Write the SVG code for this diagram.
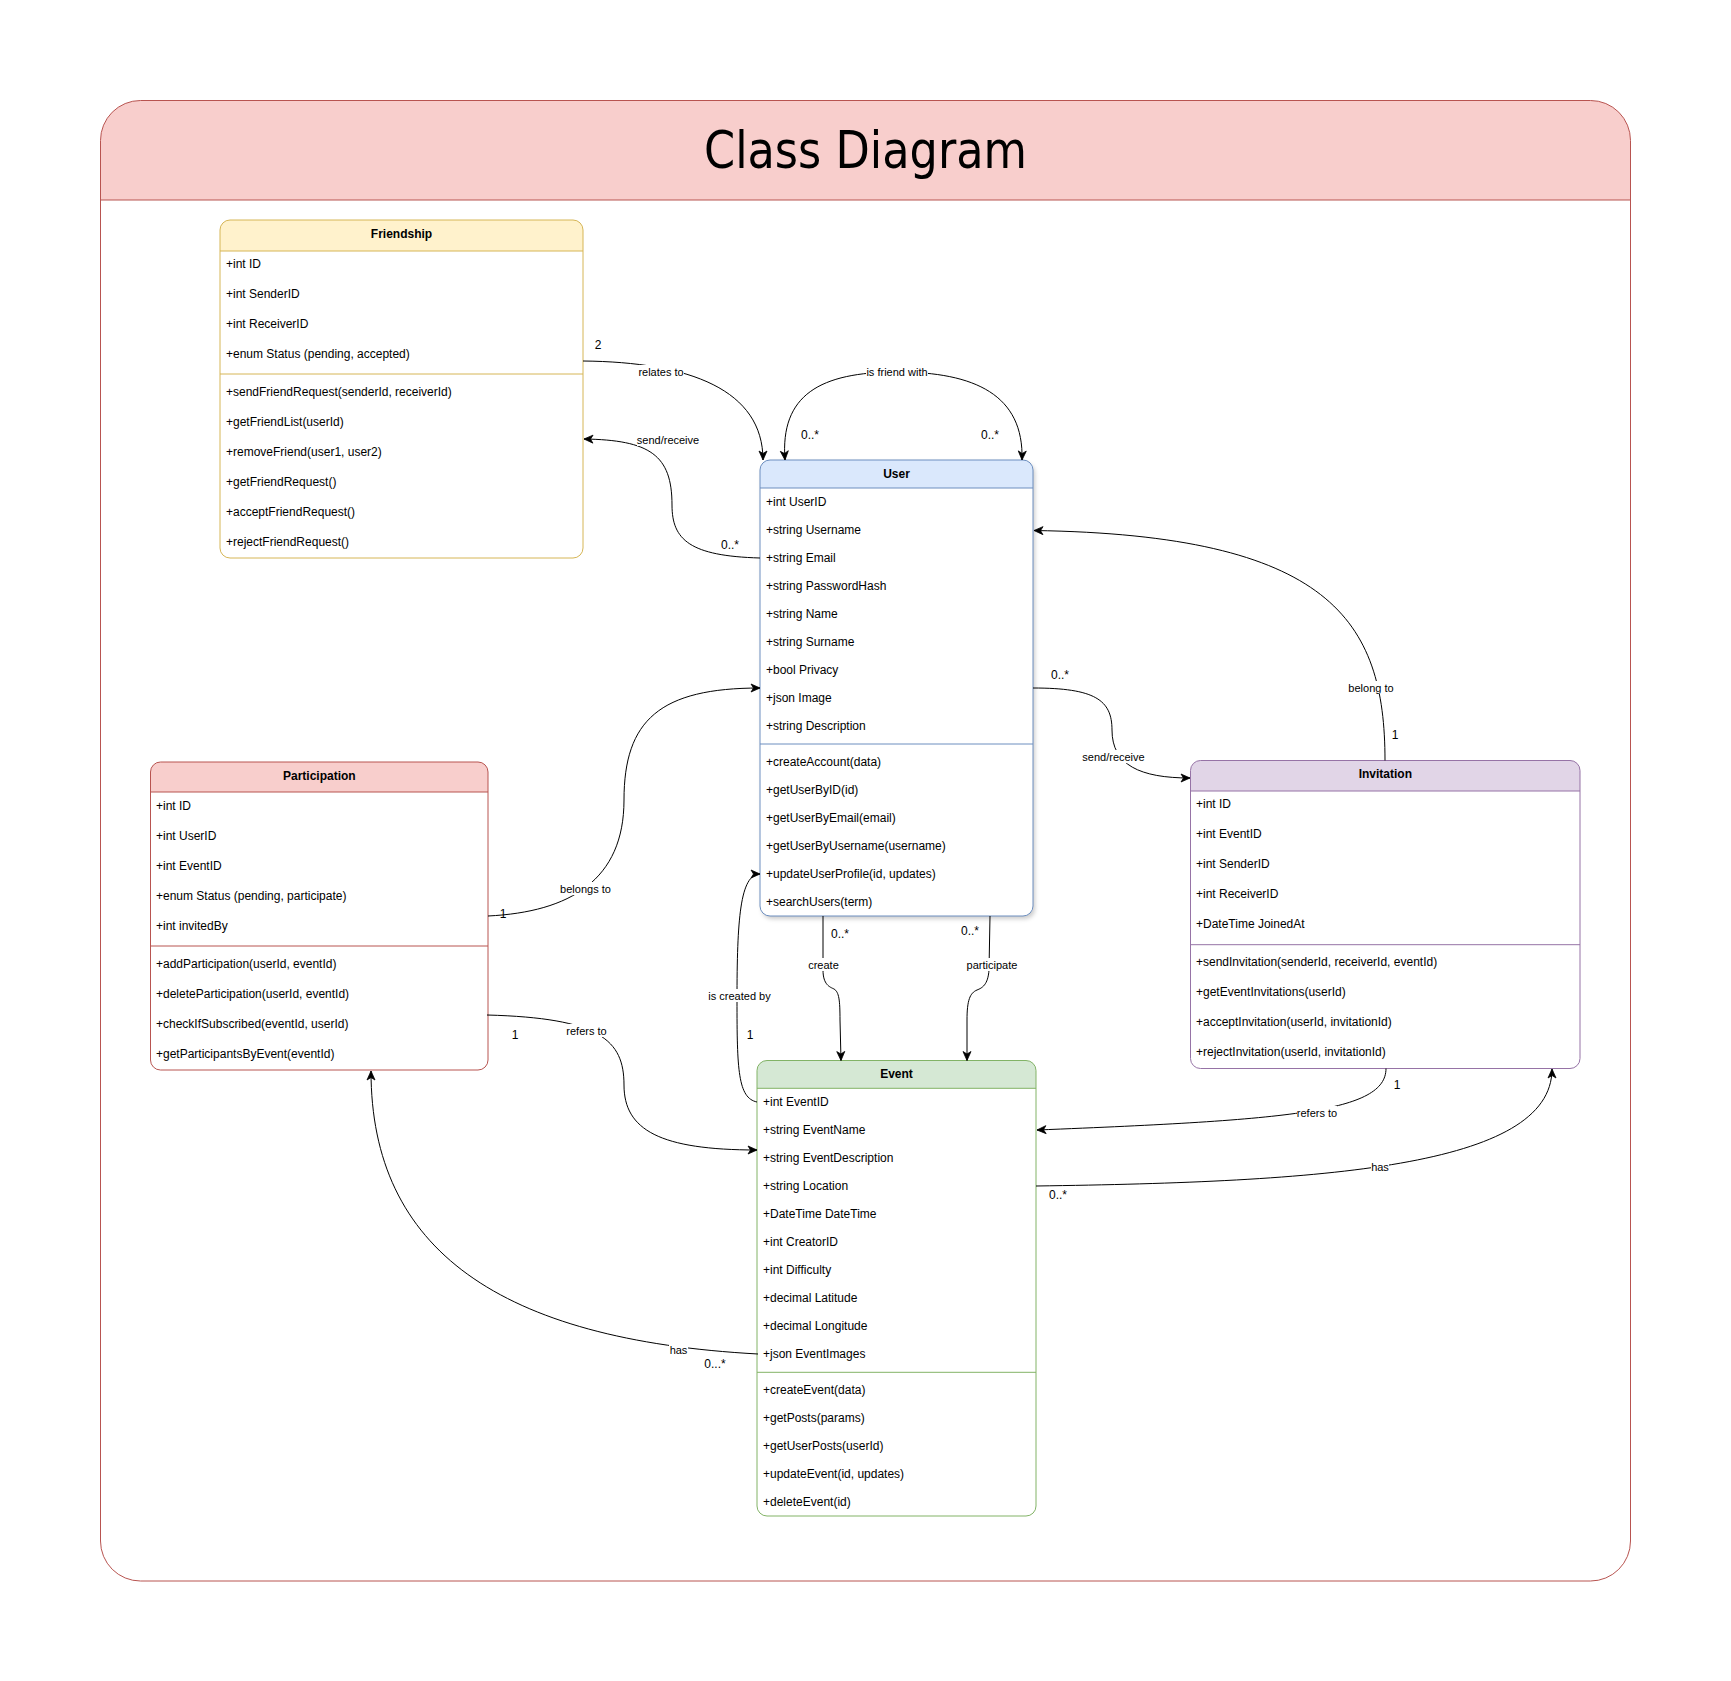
<svg xmlns="http://www.w3.org/2000/svg" width="1731" height="1681" viewBox="0 0 1731 1681">
<style>
.t{font-family:"Liberation Sans",Arial,sans-serif;font-size:12px;fill:#000;dominant-baseline:central}
.h{font-family:"Liberation Sans",Arial,sans-serif;font-size:12px;font-weight:bold;fill:#000;dominant-baseline:central;text-anchor:middle}
.lbl{font-family:"Liberation Sans",Arial,sans-serif;font-size:11px;fill:#000;dominant-baseline:central;text-anchor:middle}
.m{font-family:"Liberation Sans",Arial,sans-serif;font-size:12px;fill:#000;dominant-baseline:central;text-anchor:middle}
.bg{fill:#fff;stroke:none}
.edge{fill:none;stroke:#000;stroke-width:1;marker-end:url(#arr)}
.body{fill:#fff;stroke:none}
</style>
<defs>
<marker id="arr" markerUnits="userSpaceOnUse" markerWidth="10" markerHeight="9" refX="9" refY="4" orient="auto-start-reverse" overflow="visible">
<path d="M0,0 L9,4 L0,8 L2.5,4 Z" fill="#000" stroke="#000" stroke-width="0.8"/>
</marker>
<filter id="sh" x="-10%" y="-10%" width="130%" height="130%">
<feDropShadow dx="2" dy="3" stdDeviation="2" flood-color="#000" flood-opacity="0.2"/>
</filter>
</defs>

<g id="container">
<rect x="100.5" y="100.5" width="1530" height="1480.5" rx="40" fill="#fff" stroke="none"/>
<path d="M100.5,200 V140.5 A40,40 0 0 1 140.5,100.5 H1590.5 A40,40 0 0 1 1630.5,140.5 V200 Z" fill="#f8cecc"/>
<line x1="100.5" y1="200" x2="1630.5" y2="200" stroke="#b85450"/>
<rect x="100.5" y="100.5" width="1530" height="1480.5" rx="40" fill="none" stroke="#b85450"/>
<text x="865.5" y="168" text-anchor="middle" font-family="'Liberation Sans Narrow','DejaVu Sans Condensed','Liberation Sans',sans-serif" font-size="52" textLength="323" lengthAdjust="spacingAndGlyphs" fill="#000">Class Diagram</text>
</g>

<g id="friendship">
<rect x="220" y="220" width="363" height="338" rx="10" class="body"/>
<path d="M220,251 V230 A10,10 0 0 1 230,220 H573 A10,10 0 0 1 583,230 V251 Z" fill="#fff2cc"/>
<line x1="220" y1="251" x2="583" y2="251" stroke="#d6b656"/>
<line x1="220" y1="374" x2="583" y2="374" stroke="#d6b656"/>
<rect x="220" y="220" width="363" height="338" rx="10" fill="none" stroke="#d6b656"/>
<text class="h" x="401.5" y="234">Friendship</text>
<text class="t" x="226" y="263.5">+int ID</text>
<text class="t" x="226" y="293.5">+int SenderID</text>
<text class="t" x="226" y="323.5">+int ReceiverID</text>
<text class="t" x="226" y="353.5">+enum Status (pending, accepted)</text>
<text class="t" x="226" y="392">+sendFriendRequest(senderId, receiverId)</text>
<text class="t" x="226" y="422">+getFriendList(userId)</text>
<text class="t" x="226" y="452">+removeFriend(user1, user2)</text>
<text class="t" x="226" y="482">+getFriendRequest()</text>
<text class="t" x="226" y="512">+acceptFriendRequest()</text>
<text class="t" x="226" y="542">+rejectFriendRequest()</text>
</g>

<g id="user">
<rect x="760" y="460" width="273" height="456" rx="10" fill="#fff" filter="url(#sh)"/>
<path d="M760,488 V470 A10,10 0 0 1 770,460 H1023 A10,10 0 0 1 1033,470 V488 Z" fill="#dae8fc"/>
<line x1="760" y1="488" x2="1033" y2="488" stroke="#6c8ebf"/>
<line x1="760" y1="744" x2="1033" y2="744" stroke="#6c8ebf"/>
<rect x="760" y="460" width="273" height="456" rx="10" fill="none" stroke="#6c8ebf"/>
<text class="h" x="896.5" y="473.5">User</text>
<text class="t" x="766" y="502">+int UserID</text>
<text class="t" x="766" y="530">+string Username</text>
<text class="t" x="766" y="558">+string Email</text>
<text class="t" x="766" y="586">+string PasswordHash</text>
<text class="t" x="766" y="614">+string Name</text>
<text class="t" x="766" y="642">+string Surname</text>
<text class="t" x="766" y="670">+bool Privacy</text>
<text class="t" x="766" y="698">+json Image</text>
<text class="t" x="766" y="726">+string Description</text>
<text class="t" x="766" y="762">+createAccount(data)</text>
<text class="t" x="766" y="790">+getUserByID(id)</text>
<text class="t" x="766" y="818">+getUserByEmail(email)</text>
<text class="t" x="766" y="846">+getUserByUsername(username)</text>
<text class="t" x="766" y="874">+updateUserProfile(id, updates)</text>
<text class="t" x="766" y="902">+searchUsers(term)</text>
</g>

<g id="participation">
<rect x="150.5" y="762" width="337.5" height="308" rx="10" class="body"/>
<path d="M150.5,792 V772 A10,10 0 0 1 160.5,762 H478 A10,10 0 0 1 488,772 V792 Z" fill="#f8cecc"/>
<line x1="150.5" y1="792" x2="488" y2="792" stroke="#b85450"/>
<line x1="150.5" y1="946" x2="488" y2="946" stroke="#b85450"/>
<rect x="150.5" y="762" width="337.5" height="308" rx="10" fill="none" stroke="#b85450"/>
<text class="h" x="319.3" y="776">Participation</text>
<text class="t" x="156" y="806">+int ID</text>
<text class="t" x="156" y="836">+int UserID</text>
<text class="t" x="156" y="866">+int EventID</text>
<text class="t" x="156" y="896">+enum Status (pending, participate)</text>
<text class="t" x="156" y="926">+int invitedBy</text>
<text class="t" x="156" y="963.5">+addParticipation(userId, eventId)</text>
<text class="t" x="156" y="993.5">+deleteParticipation(userId, eventId)</text>
<text class="t" x="156" y="1023.5">+checkIfSubscribed(eventId, userId)</text>
<text class="t" x="156" y="1053.5">+getParticipantsByEvent(eventId)</text>
</g>

<g id="invitation">
<rect x="1190.5" y="760.5" width="389.5" height="308" rx="10" class="body"/>
<path d="M1190.5,791 V770.5 A10,10 0 0 1 1200.5,760.5 H1570 A10,10 0 0 1 1580,770.5 V791 Z" fill="#e1d5e7"/>
<line x1="1190.5" y1="791" x2="1580" y2="791" stroke="#9673a6"/>
<line x1="1190.5" y1="944.7" x2="1580" y2="944.7" stroke="#9673a6"/>
<rect x="1190.5" y="760.5" width="389.5" height="308" rx="10" fill="none" stroke="#9673a6"/>
<text class="h" x="1385.3" y="773.5">Invitation</text>
<text class="t" x="1196" y="803.5">+int ID</text>
<text class="t" x="1196" y="833.5">+int EventID</text>
<text class="t" x="1196" y="863.5">+int SenderID</text>
<text class="t" x="1196" y="893.5">+int ReceiverID</text>
<text class="t" x="1196" y="923.5">+DateTime JoinedAt</text>
<text class="t" x="1196" y="962">+sendInvitation(senderId, receiverId, eventId)</text>
<text class="t" x="1196" y="992">+getEventInvitations(userId)</text>
<text class="t" x="1196" y="1022">+acceptInvitation(userId, invitationId)</text>
<text class="t" x="1196" y="1052">+rejectInvitation(userId, invitationId)</text>
</g>

<g id="event">
<rect x="757" y="1060.5" width="279" height="455.5" rx="10" class="body"/>
<path d="M757,1088.3 V1070.5 A10,10 0 0 1 767,1060.5 H1026 A10,10 0 0 1 1036,1070.5 V1088.3 Z" fill="#d5e8d4"/>
<line x1="757" y1="1088.3" x2="1036" y2="1088.3" stroke="#82b366"/>
<line x1="757" y1="1372.3" x2="1036" y2="1372.3" stroke="#82b366"/>
<rect x="757" y="1060.5" width="279" height="455.5" rx="10" fill="none" stroke="#82b366"/>
<text class="h" x="896.5" y="1073.5">Event</text>
<text class="t" x="763" y="1102">+int EventID</text>
<text class="t" x="763" y="1130">+string EventName</text>
<text class="t" x="763" y="1158">+string EventDescription</text>
<text class="t" x="763" y="1186">+string Location</text>
<text class="t" x="763" y="1214">+DateTime DateTime</text>
<text class="t" x="763" y="1242">+int CreatorID</text>
<text class="t" x="763" y="1270">+int Difficulty</text>
<text class="t" x="763" y="1298">+decimal Latitude</text>
<text class="t" x="763" y="1326">+decimal Longitude</text>
<text class="t" x="763" y="1354">+json EventImages</text>
<text class="t" x="763" y="1390">+createEvent(data)</text>
<text class="t" x="763" y="1418">+getPosts(params)</text>
<text class="t" x="763" y="1446">+getUserPosts(userId)</text>
<text class="t" x="763" y="1474">+updateEvent(id, updates)</text>
<text class="t" x="763" y="1502">+deleteEvent(id)</text>
</g>

<g id="connectors">
<path class="edge" d="M583,361 C690,362 763,390 763,460"/>
<path class="edge" style="marker-start:url(#arr)" d="M785,460 C780,395 820,372 897,372 C975,372 1024,395 1022,460"/>
<path class="edge" d="M760,558 C690,556 672,540 672,505 C672,455 650,440 584,439"/>
<path class="edge" d="M1033,688 C1095,688 1112,700 1112,730 C1112,765 1140,778 1190,778"/>
<path class="edge" d="M1385,760.5 C1385,620 1330,535 1034,530.5"/>
<path class="edge" d="M488,916 C570,912 624,880 624,800 C624,720 660,688 760,688"/>
<path class="edge" d="M487,1015 C600,1018 624,1040 624,1085 C624,1130 660,1150 757,1150"/>
<path class="edge" d="M757,1102 C738,1098 737,1070 737,1000 C737,920 740,874 760,874"/>
<path class="edge" d="M823,916 L823,970 C823,985 830,987 834,989 C839,992 840,1000 840,1020 L841,1060.5"/>
<path class="edge" d="M990,916 L989,970 C988,985 982,988 977,990 C970,993 967,1000 967,1020 L967,1060.5"/>
<path class="edge" d="M1386,1068.5 C1386,1112 1290,1120 1037,1130"/>
<path class="edge" d="M1036,1186 C1320,1182 1552,1168 1552,1069"/>
<path class="edge" d="M758,1354 C500,1340 371,1250 371,1071"/>

<rect class="bg" x="638" y="365" width="46" height="13"/><text class="lbl" x="661" y="372">relates to</text>
<rect class="bg" x="866" y="365" width="62" height="13"/><text class="lbl" x="897" y="372">is friend with</text>
<rect class="bg" x="637" y="433" width="62" height="13"/><text class="lbl" x="668" y="440">send/receive</text>
<rect class="bg" x="1082" y="750" width="63" height="13"/><text class="lbl" x="1113.5" y="757">send/receive</text>
<rect class="bg" x="1348" y="681" width="46" height="13"/><text class="lbl" x="1371" y="688">belong to</text>
<rect class="bg" x="560" y="882" width="51" height="13"/><text class="lbl" x="585.5" y="889">belongs to</text>
<rect class="bg" x="566" y="1024" width="41" height="13"/><text class="lbl" x="586.5" y="1031">refers to</text>
<rect class="bg" x="708" y="989" width="63" height="13"/><text class="lbl" x="739.5" y="996">is created by</text>
<rect class="bg" x="808" y="958" width="31" height="13"/><text class="lbl" x="823.5" y="965">create</text>
<rect class="bg" x="966" y="958" width="52" height="13"/><text class="lbl" x="992" y="965">participate</text>
<rect class="bg" x="1297" y="1106" width="40" height="13"/><text class="lbl" x="1317" y="1113">refers to</text>
<rect class="bg" x="1371" y="1160" width="18" height="13"/><text class="lbl" x="1380" y="1167">has</text>
<rect class="bg" x="669" y="1343" width="19" height="13"/><text class="lbl" x="678.5" y="1350">has</text>

<text class="m" x="598" y="345">2</text>
<text class="m" x="810" y="435">0..*</text>
<text class="m" x="990" y="435">0..*</text>
<text class="m" x="730" y="545">0..*</text>
<text class="m" x="1060" y="675">0..*</text>
<text class="m" x="1395" y="735">1</text>
<text class="m" x="503" y="914">1</text>
<text class="m" x="515" y="1035">1</text>
<text class="m" x="750" y="1035">1</text>
<text class="m" x="840" y="934">0..*</text>
<text class="m" x="970" y="931">0..*</text>
<text class="m" x="1397" y="1085">1</text>
<text class="m" x="1058" y="1195">0..*</text>
<text class="m" x="715" y="1364">0...*</text>
</g>
</svg>
